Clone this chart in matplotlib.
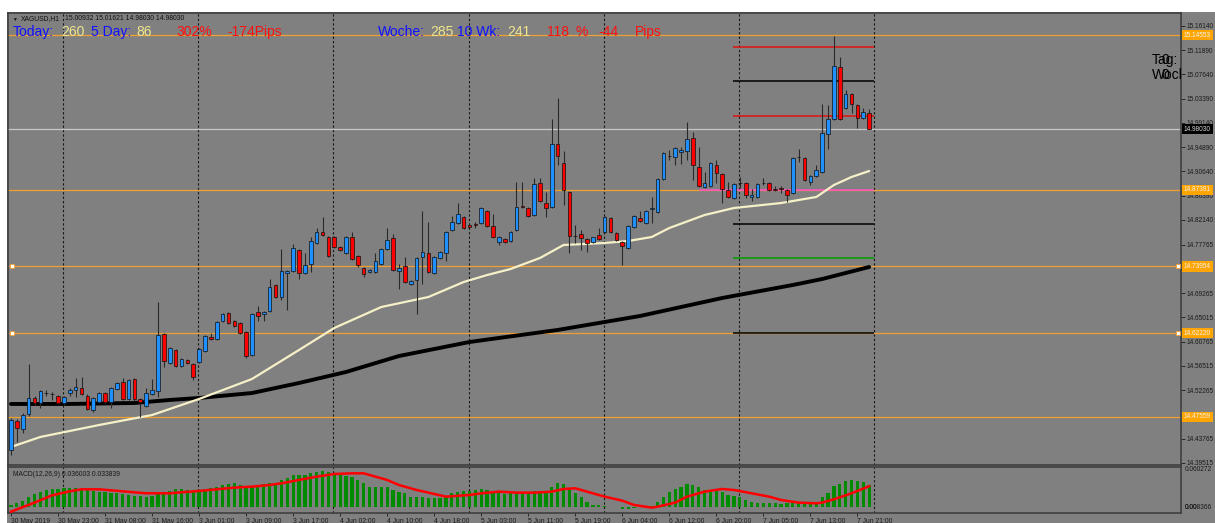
import matplotlib

matplotlib.use("Agg")
import matplotlib.pyplot as plt
import matplotlib.transforms as mtransforms
from matplotlib.patches import Rectangle
import numpy as np

plt.rcParams["font.family"] = ["Liberation Sans", "DejaVu Sans"]

# XAGUSD H1 bars, 30 May 15:00 .. 7 Jun 23:00
opens = [
    14.4176, 14.4685, 14.4544, 14.4807, 14.5088, 14.5000, 14.5175, 14.5158, 14.5123, 14.5000,
    14.5175, 14.5228, 14.5263, 14.5123, 14.4877, 14.5018, 14.5175, 14.5018, 14.5246, 14.5368,
    14.5070, 14.5421, 14.5070, 14.4947, 14.5158, 14.5211, 14.6210, 14.5702, 14.5930, 14.5649,
    14.5754, 14.5684, 14.5719, 14.5912, 14.6158, 14.6123, 14.6439, 14.6579, 14.6439, 14.6403,
    14.6245, 14.5842, 14.6596, 14.6561, 14.6614, 14.7070, 14.6859, 14.7280, 14.7315, 14.7684,
    14.7280, 14.7438, 14.7807, 14.8000, 14.7912, 14.7912, 14.7736, 14.7631, 14.7912, 14.7579,
    14.7368, 14.7298, 14.7298, 14.7438, 14.7701, 14.7894, 14.7315, 14.7403, 14.7088, 14.7158,
    14.7561, 14.7631, 14.7280, 14.7544, 14.7631, 14.8035, 14.8158, 14.8263, 14.8123, 14.8140,
    14.8158, 14.8368, 14.8105, 14.7824, 14.7877, 14.7842, 14.8035, 14.8456, 14.8421, 14.8298,
    14.8859, 14.8508, 14.8438, 14.9543, 14.9210, 14.8701, 14.7930, 14.7965, 14.7877, 14.7824,
    14.7947, 14.8000, 14.8245, 14.7982, 14.7824, 14.7719, 14.8088, 14.8245, 14.8158, 14.8403,
    14.8351, 14.8929, 14.9333, 14.9315, 14.9403, 14.9421, 14.9649, 14.9140, 14.8789, 14.8807,
    14.9175, 14.9017, 14.8736, 14.8596, 14.8859, 14.8859, 14.8614, 14.8614, 14.8859, 14.8859,
    14.8754, 14.8772, 14.8736, 14.8684, 14.9315, 14.9298, 14.8877, 14.8982, 14.9052, 14.9719,
    14.9982, 15.0894, 15.0175, 15.0421, 15.0228, 15.0000, 15.00932,
]
highs = [
    14.4737, 14.4720, 14.4825, 14.5684, 14.5123, 14.5228, 14.5228, 14.5193, 14.5140, 14.5123,
    14.5263, 14.5439, 14.5456, 14.5158, 14.5105, 14.5193, 14.5193, 14.5281, 14.5368, 14.5439,
    14.5421, 14.5439, 14.5088, 14.5263, 14.5421, 14.6772, 14.6228, 14.5982, 14.5947, 14.5789,
    14.5772, 14.5702, 14.5965, 14.6193, 14.6228, 14.6439, 14.6579, 14.6596, 14.6456, 14.6421,
    14.6263, 14.6579, 14.6702, 14.6614, 14.7175, 14.7088, 14.7701, 14.7333, 14.7789, 14.7701,
    14.7631, 14.7912, 14.8070, 14.8263, 14.7930, 14.7930, 14.7754, 14.7930, 14.8000, 14.7596,
    14.7386, 14.7351, 14.7631, 14.7719, 14.8070, 14.7965, 14.7438, 14.7561, 14.7158, 14.7561,
    14.8368, 14.8175, 14.7579, 14.7666, 14.8017, 14.8280, 14.8508, 14.8280, 14.8140, 14.8175,
    14.8438, 14.8386, 14.8315, 14.7930, 14.7894, 14.8017, 14.8877, 14.8877, 14.8438, 14.8947,
    14.8947, 14.8701, 14.9982, 15.0351, 14.9421, 14.8719, 14.8123, 14.8035, 14.7894, 14.7912,
    14.8070, 14.8280, 14.8263, 14.8000, 14.7842, 14.8123, 14.8298, 14.8368, 14.8386, 14.8614,
    14.8947, 14.9403, 14.9438, 14.9491, 14.9491, 14.9929, 14.9754, 14.9491, 14.9052, 14.9228,
    14.9263, 14.9035, 14.8877, 14.8859, 14.8965, 14.8877, 14.8754, 14.8859, 14.8947, 14.8877,
    14.8807, 14.8807, 14.8754, 14.9315, 14.9456, 14.9315, 14.9000, 14.9175, 15.0245, 15.0228,
    15.1438, 15.1070, 15.0491, 15.0438, 15.0245, 15.0175, 15.01621,
]
lows = [
    14.4088, 14.4316, 14.4474, 14.4772, 14.4965, 14.4912, 14.5123, 14.5053, 14.4983, 14.4965,
    14.5123, 14.5105, 14.5140, 14.4877, 14.4842, 14.5000, 14.4983, 14.4912, 14.5228, 14.5053,
    14.5053, 14.5035, 14.4755, 14.4928, 14.5140, 14.5105, 14.5632, 14.5684, 14.5632, 14.5632,
    14.5684, 14.5404, 14.5702, 14.5895, 14.6105, 14.6105, 14.6421, 14.6386, 14.6333, 14.6210,
    14.5789, 14.5824, 14.6439, 14.6439, 14.6596, 14.6842, 14.6807, 14.6632, 14.7298, 14.7175,
    14.7263, 14.7298, 14.7789, 14.7930, 14.7561, 14.7719, 14.7666, 14.7614, 14.7509, 14.7386,
    14.7210, 14.7280, 14.7280, 14.7421, 14.7684, 14.7315, 14.7000, 14.7105, 14.7070, 14.6561,
    14.7088, 14.7280, 14.7263, 14.7526, 14.7491, 14.8017, 14.8140, 14.8052, 14.8070, 14.8070,
    14.8140, 14.8088, 14.7894, 14.7772, 14.7807, 14.7824, 14.8017, 14.8421, 14.8263, 14.8280,
    14.8526, 14.8263, 14.8421, 14.9175, 14.8473, 14.7631, 14.7807, 14.7684, 14.7649, 14.7807,
    14.7859, 14.7982, 14.7982, 14.7842, 14.7421, 14.7701, 14.8070, 14.8175, 14.8140, 14.8158,
    14.8333, 14.8912, 14.9263, 14.9175, 14.9193, 14.9263, 14.8912, 14.8789, 14.8772, 14.8789,
    14.8859, 14.8508, 14.8596, 14.8579, 14.8772, 14.8596, 14.8543, 14.8596, 14.8824, 14.8719,
    14.8719, 14.8684, 14.8526, 14.8666, 14.9228, 14.8894, 14.8824, 14.8965, 14.9035, 14.9456,
    14.9965, 14.9965, 15.0158, 15.0087, 14.9824, 14.9982, 14.98030,
]
closes = [
    14.4702, 14.4562, 14.4790, 14.5088, 14.5000, 14.5211, 14.5175, 14.5158, 14.5000, 14.5105,
    14.5228, 14.5281, 14.5158, 14.4895, 14.5088, 14.5175, 14.5018, 14.5263, 14.5351, 14.5070,
    14.5404, 14.5070, 14.5018, 14.5175, 14.5228, 14.6193, 14.5737, 14.5965, 14.5649, 14.5772,
    14.5702, 14.5456, 14.5947, 14.6175, 14.6123, 14.6421, 14.6561, 14.6403, 14.6351, 14.6228,
    14.5824, 14.6561, 14.6526, 14.6596, 14.7035, 14.6859, 14.7315, 14.7315, 14.7719, 14.7280,
    14.7421, 14.7842, 14.8000, 14.7947, 14.7579, 14.7736, 14.7684, 14.7912, 14.7526, 14.7421,
    14.7263, 14.7333, 14.7491, 14.7701, 14.7859, 14.7333, 14.7368, 14.7122, 14.7140, 14.7544,
    14.7649, 14.7298, 14.7561, 14.7649, 14.8000, 14.8175, 14.8315, 14.8070, 14.8088, 14.8123,
    14.8421, 14.8105, 14.7912, 14.7912, 14.7824, 14.8000, 14.8438, 14.8438, 14.8280, 14.8842,
    14.8543, 14.8421, 14.9543, 14.9333, 14.8736, 14.7930, 14.7930, 14.7894, 14.7807, 14.7912,
    14.7877, 14.8263, 14.8000, 14.7859, 14.7754, 14.8105, 14.8280, 14.8193, 14.8368, 14.8421,
    14.8929, 14.9386, 14.9333, 14.9473, 14.9438, 14.9631, 14.9175, 14.8807, 14.8859, 14.9210,
    14.9035, 14.8754, 14.8614, 14.8842, 14.8859, 14.8649, 14.8649, 14.8842, 14.8859, 14.8736,
    14.8736, 14.8754, 14.8649, 14.9298, 14.9315, 14.8912, 14.8982, 14.9087, 14.9736, 14.9982,
    15.0912, 14.9982, 15.0421, 15.0245, 15.0000, 15.0105, 14.98030,
]

# moving averages, read at a number of bars
fast_ma_idx = [0, 5, 15, 24, 32, 41, 49, 55, 63, 71, 77, 81, 85, 90, 94, 101, 105,
               109, 112, 118, 123, 131, 137, 140, 143, 146]
fast_ma_val = [14.4228, 14.4404, 14.4614, 14.4789, 14.5070, 14.5421, 14.5930, 14.6316,
               14.6684, 14.6859, 14.7122, 14.7245, 14.7351, 14.7544, 14.7772, 14.7807,
               14.7842, 14.7912, 14.8070, 14.8298, 14.8421, 14.8508, 14.8614, 14.8824,
               14.8965, 14.9070]
slow_ma_idx = [0, 10, 21, 27, 32, 41, 49, 57, 66, 78, 93, 107, 121, 133, 138, 146]
slow_ma_val = [14.4983, 14.4983, 14.5000, 14.5053, 14.5088, 14.5175, 14.5351, 14.5544,
               14.5824, 14.6070, 14.6281, 14.6526, 14.6842, 14.7070, 14.7175, 14.7386]

# MACD(12,26,9) main as histogram, signal line read at a number of bars
macd_main = [
    0.0033, 0.0060, 0.0103, 0.0168, 0.0206, 0.0250, 0.0277, 0.0299, 0.0288, 0.0304,
    0.0309, 0.0315, 0.0299, 0.0288, 0.0266, 0.0250, 0.0250, 0.0233, 0.0223, 0.0206,
    0.0195, 0.0179, 0.0179, 0.0168, 0.0179, 0.0223, 0.0239, 0.0261, 0.0288, 0.0288,
    0.0277, 0.0261, 0.0277, 0.0288, 0.0304, 0.0331, 0.0358, 0.0375, 0.0385, 0.0358,
    0.0342, 0.0342, 0.0358, 0.0375, 0.0385, 0.0396, 0.0440, 0.0467, 0.0521, 0.0521,
    0.0521, 0.0548, 0.0565, 0.0592, 0.0575, 0.0521, 0.0537, 0.0505, 0.0494, 0.0440,
    0.0385, 0.0331, 0.0320, 0.0320, 0.0331, 0.0277, 0.0250, 0.0233, 0.0157, 0.0157,
    0.0168, 0.0141, 0.0141, 0.0141, 0.0168, 0.0223, 0.0250, 0.0261, 0.0261, 0.0277,
    0.0293, 0.0277, 0.0250, 0.0266, 0.0212, 0.0239, 0.0223, 0.0223, 0.0233, 0.0266,
    0.0266, 0.0261, 0.0320, 0.0396, 0.0375, 0.0288, 0.0223, 0.0157, 0.0087, 0.0033,
    0.0033, 0.0016, 0.0005, -0.0005, -0.0038, -0.0027, -0.0011, 0.0005, 0.0016, 0.0016,
    0.0087, 0.0168, 0.0250, 0.0288, 0.0331, 0.0375, 0.0358, 0.0331, 0.0277, 0.0261,
    0.0266, 0.0250, 0.0195, 0.0179, 0.0157, 0.0114, 0.0087, 0.0071, 0.0071, 0.0060,
    0.0060, 0.0049, 0.0060, 0.0071, 0.0087, 0.0087, 0.0087, 0.0087, 0.0157, 0.0223,
    0.0342, 0.0375, 0.0423, 0.0434, 0.0423, 0.0402, 0.0360,
]
signal_idx = [0, 4, 7, 10, 12, 15, 19, 23, 27, 29, 32, 35, 38, 41, 44, 46, 49, 52, 55,
              58, 60, 62, 64, 66, 69, 72, 74, 78, 80, 83, 86, 89, 92, 94, 96, 98, 101,
              104, 106, 109, 110, 113, 115, 118, 121, 123, 126, 129, 131, 134, 137,
              138, 140, 143, 146]
signal_val = [-0.0076, 0.0071, 0.0190, 0.0255, 0.0288, 0.0288, 0.0255, 0.0223, 0.0223,
              0.0239, 0.0261, 0.0288, 0.0315, 0.0331, 0.0358, 0.0385, 0.0440, 0.0494,
              0.0537, 0.0548, 0.0548, 0.0494, 0.0440, 0.0358, 0.0277, 0.0212, 0.0168,
              0.0195, 0.0223, 0.0250, 0.0233, 0.0233, 0.0250, 0.0293, 0.0304, 0.0250,
              0.0168, 0.0103, 0.0033, -0.0011, 0.0005, 0.0071, 0.0168, 0.0250, 0.0293,
              0.0277, 0.0223, 0.0168, 0.0114, 0.0071, 0.0060, 0.0071, 0.0125, 0.0223,
              0.0338]

# horizontal levels
orange_levels = [15.14553, 14.87391, 14.73954, 14.62220, 14.47559]
marked_levels = [14.73954, 14.62220]
current_price = 14.98030
red_levels = [15.1246, 15.0035]
black_levels = [15.0649, 14.8140, 14.6228]
green_levels = [14.7544]
pink_levels = [14.87391]

price_ticks = [15.16140, 15.11890, 15.07640, 15.03390, 14.99140, 14.94890, 14.90640,
               14.86390, 14.82140, 14.77765, 14.73515, 14.69265, 14.65015, 14.60765,
               14.56515, 14.52265, 14.48015, 14.43765, 14.39515]

day_starts = [9, 32, 55, 78, 101, 124, 147]
time_label_idx = [0, 8, 16, 24, 32, 40, 48, 56, 64, 72, 80, 88, 96, 104, 112, 120, 128, 136, 144]
time_labels = ["30 May 2019", "30 May 23:00", "31 May 08:00", "31 May 16:00", "3 Jun 01:00",
               "3 Jun 09:00", "3 Jun 17:00", "4 Jun 02:00", "4 Jun 10:00", "4 Jun 18:00",
               "5 Jun 03:00", "5 Jun 11:00", "5 Jun 19:00", "6 Jun 04:00", "6 Jun 12:00",
               "6 Jun 20:00", "7 Jun 05:00", "7 Jun 13:00", "7 Jun 21:00"]

W, H = 1215, 523
BG = "#808080"
ORANGE = "#f0a030"
AXFS = 4.7


def fx(px):
    return px / W


def fy(py):
    return 1 - py / H


fig = plt.figure(figsize=(W / 100, H / 100), dpi=100)
fig.patches.append(Rectangle((fx(7), 0), 1 - fx(7), fy(12), transform=fig.transFigure,
                             facecolor=BG, edgecolor="none", zorder=-5))

ax = fig.add_axes([fx(8), fy(465), fx(1181) - fx(8), fy(13) - fy(465)])
ax2 = fig.add_axes([fx(8), fy(513), fx(1181) - fx(8), fy(467) - fy(513)])
for a in (ax, ax2):
    a.set_facecolor(BG)
    a.set_xlim(-0.51, 199.05)
    for s in a.spines.values():
        s.set_color("#3a3a3a")
        s.set_linewidth(1.1)
    for d in day_starts:
        a.axvline(d - 0.15, color="#151515", lw=0.8, ls=(0, (2, 2)), zorder=1)

ax.set_ylim(14.3912, 15.1842)
ax2.set_ylim(-0.0098, 0.0651)

# levels
for v in orange_levels:
    ax.axhline(v, color=ORANGE, lw=0.9, zorder=2)
ax.axhline(current_price, color="#c8c8c8", lw=0.9, zorder=2)
ax.hlines(pink_levels, 117, 146.8, color="#ff50c8", lw=1.1, zorder=2)
ax.hlines(red_levels, 122.8, 146.8, color="#e01010", lw=1.1, zorder=2)
ax.hlines(black_levels, 122.8, 146.8, color="#000000", lw=1.1, zorder=2)
ax.hlines(green_levels, 122.8, 146.8, color="#00a000", lw=1.1, zorder=2)

blend = mtransforms.blended_transform_factory(ax.transAxes, ax.transData)
ax.plot([0.003] * len(marked_levels), marked_levels, "s", ms=2.6, mfc="white",
        mec=ORANGE, mew=0.6, transform=blend, zorder=5, clip_on=False)
ax.plot([0.9975] * len(marked_levels), marked_levels, "s", ms=2.6, mfc="white",
        mec=ORANGE, mew=0.6, transform=blend, zorder=5, clip_on=False)

# moving averages
ax.plot(slow_ma_idx, slow_ma_val, color="#000000", lw=2.8, zorder=3, solid_capstyle="round")
ax.plot(fast_ma_idx, fast_ma_val, color="#f5f0c8", lw=1.6, zorder=3, solid_capstyle="round")

# candles
o = np.array(opens)
h = np.array(highs)
l = np.array(lows)
c = np.array(closes)
idx = np.arange(len(o))
up = c >= o
ax.vlines(idx, l, h, color="#2a2a2a", lw=0.8, zorder=4)
ax.bar(idx[up], (c - o)[up], bottom=o[up], width=0.62, color="#1e90ff",
       edgecolor="#101010", linewidth=0.5, zorder=5)
ax.bar(idx[~up], (c - o)[~up], bottom=o[~up], width=0.62, color="#ff0000",
       edgecolor="#101010", linewidth=0.5, zorder=5)

# right price scale
ax.set_xticks([])
ax.yaxis.tick_right()
ax.set_yticks(price_ticks)
ax.set_yticklabels([f"{v:.5f}" for v in price_ticks])
ax.tick_params(axis="y", direction="out", length=3, width=0.6, pad=1.2,
               labelsize=AXFS, colors="#1a1a1a")
for v in orange_levels:
    ax.text(1.0025, v, f"{v:.5f}", transform=blend, ha="left", va="center", fontsize=AXFS,
            color="#f2f2f2", clip_on=False, zorder=6,
            bbox=dict(boxstyle="square,pad=0.25", fc="#ffa500", ec="none"))
ax.text(1.0025, current_price, f"{current_price:.5f}", transform=blend, ha="left",
        va="center", fontsize=AXFS, color="#d8d8d8", clip_on=False, zorder=6,
        bbox=dict(boxstyle="square,pad=0.25", fc="#000000", ec="none"))

# MACD panel
ax2.bar(idx, macd_main, width=0.55, color="#008c00", zorder=3)
ax2.plot(signal_idx, signal_val, color="#ff0000", lw=1.8, zorder=4)
ax2.set_yticks([])
blend2 = mtransforms.blended_transform_factory(ax2.transAxes, ax2.transData)
ax2.text(1.003, 0.060272, "0.060272", transform=blend2, ha="left", va="center",
         fontsize=AXFS, color="#1a1a1a", clip_on=False)
ax2.text(1.003, -0.0016, "0.008366", transform=blend2, ha="left", va="center",
         fontsize=AXFS, color="#1a1a1a", clip_on=False)
ax2.text(1.003, -0.0016, "0.00", transform=blend2, ha="left", va="center",
         fontsize=AXFS, color="#1a1a1a", clip_on=False)
ax2.set_xticks(time_label_idx)
ax2.set_xticklabels(time_labels, ha="left")
ax2.tick_params(axis="x", direction="out", length=2.5, width=0.6, pad=0.8,
                labelsize=4.9, colors="#1a1a1a")
fig.text(fx(13), fy(474), "MACD(12,26,9) 0.036003 0.033839", fontsize=4.9,
         color="#1a1a1a", va="center")

# header
fig.text(fx(12), fy(19), "\u25bc", fontsize=3.5, color="#111111", va="center")
fig.text(fx(21), fy(19), "XAGUSD,H1", fontsize=4.9, color="#111111", va="center")
fig.text(fx(65), fy(19), "15.00932 15.01621 14.98030 14.98030", fontsize=4.9,
         color="#111111", va="center")

BLUE = "#1010ff"
KHAKI = "#f0e68c"
RED = "#ff1010"
header = [
    (13, "Today:", BLUE), (61, "260", KHAKI), (91, "5 Day:", BLUE), (136, "86", KHAKI),
    (176, "302%", RED), (227, "-174Pips", RED),
    (378, "Woche:", BLUE), (430, "285", KHAKI), (457, "10 Wk:", BLUE), (507, "241", KHAKI),
    (547, "118", RED), (575, "%", RED), (598, "-44", RED), (635, "Pips", RED),
]
for px, txt, col in header:
    fig.text(fx(px), fy(32), txt, fontsize=10, color=col, va="center")

for py, txt in [(60, "Tag:"), (75, "Woche:")]:
    ax.text(fx(1152), fy(py), txt, transform=fig.transFigure, fontsize=10,
            color="#000000", va="center", clip_on=True)
    ax.text(fx(1162), fy(py), "0", transform=fig.transFigure, fontsize=10,
            color="#000000", va="center", clip_on=True)

fig.savefig("out.png", dpi=100)
